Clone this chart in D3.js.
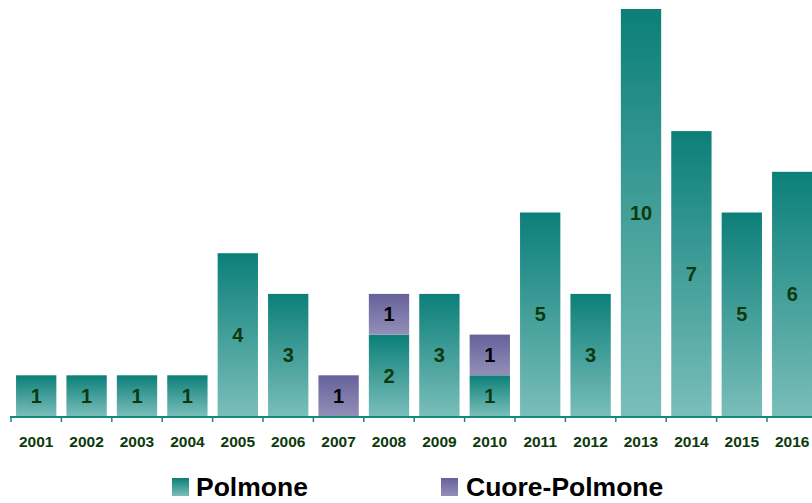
<!DOCTYPE html>
<html>
<head>
<meta charset="utf-8">
<script src="https://cdn.jsdelivr.net/npm/d3@7"></script>
<style>
  body { margin: 0; background: #fff; }
  svg { display: block; font-family: "Liberation Sans", Arial, sans-serif; }
</style>
</head>
<body>
<svg id="chart" width="812" height="503"></svg>
<script>
var years = ["2001","2002","2003","2004","2005","2006","2007","2008","2009","2010","2011","2012","2013","2014","2015","2016"];
var polmone = [1,1,1,1,4,3,0,2,3,1,5,3,10,7,5,6];
var cuorePolmone = [0,0,0,0,0,0,1,1,0,1,0,0,0,0,0,0];
var seriesNames = ["Polmone", "Cuore-Polmone"];

var svg = d3.select('#chart');
var baseY = 416;

var x = d3.scaleBand()
    .domain(years)
    .range([11, 11 + 16 * 50.4])
    .paddingInner(0.2)
    .paddingOuter(0.1);

var y = d3.scaleLinear()
    .domain([0, 10])
    .range([baseY, 9]);

// gradients
var defs = svg.append('defs');
function grad(id, top, bottom) {
    var g = defs.append('linearGradient')
        .attr('id', id)
        .attr('x1', 0).attr('y1', 0).attr('x2', 0).attr('y2', 1);
    g.append('stop').attr('offset', '0%').attr('stop-color', top);
    g.append('stop').attr('offset', '100%').attr('stop-color', bottom);
}
grad('gPol', '#0c7f79', '#7abeba');
grad('gCuo', '#66619a', '#938fb8');

var rows = years.map((yr, i) => ({ year: yr, Polmone: polmone[i], "Cuore-Polmone": cuorePolmone[i] }));
var stack = d3.stack().keys(seriesNames)(rows);
var fills = { "Polmone": "url(#gPol)", "Cuore-Polmone": "url(#gCuo)" };
var labelColors = { "Polmone": "#0d3a0d", "Cuore-Polmone": "#000" };

stack.forEach(s => {
    var seg = svg.append('g').selectAll('g')
        .data(s.filter(d => d[1] - d[0] > 0))
        .enter()
        .append('g');

    seg.append('rect')
        .attr('x', d => x(d.data.year))
        .attr('y', d => y(d[1]))
        .attr('width', x.bandwidth())
        .attr('height', d => y(d[0]) - y(d[1]))
        .attr('fill', fills[s.key]);

    seg.append('text')  // value in the middle of the segment
        .attr('x', d => x(d.data.year) + x.bandwidth() / 2)
        .attr('y', d => (y(d[0]) + y(d[1])) / 2)
        .attr('dy', '0.36em')
        .attr('text-anchor', 'middle')
        .attr('font-size', 20)
        .attr('font-weight', 'bold')
        .attr('fill', labelColors[s.key])
        .text(d => d[1] - d[0]);
});

// axis
var axis = svg.append('g').attr('transform', 'translate(0,' + (baseY + 1) + ')');
axis.append('line')
    .attr('x1', 10).attr('x2', 812)
    .attr('stroke', '#14877f').attr('stroke-width', 2);
axis.selectAll('line.tick')
    .data(d3.range(years.length + 1))
    .enter()
    .append('line')
    .attr('class', 'tick')
    .attr('x1', i => 11 + i * x.step()).attr('x2', i => 11 + i * x.step())
    .attr('y1', 0).attr('y2', 5)
    .attr('stroke', '#14877f').attr('stroke-width', 1.5);
axis.selectAll('text')
    .data(years)
    .enter()
    .append('text')
    .attr('x', d => x(d) + x.bandwidth() / 2)
    .attr('y', 30)
    .attr('text-anchor', 'middle')
    .attr('font-size', 15.5)
    .attr('font-weight', 'bold')
    .attr('fill', '#0d3a0d')
    .text(d => d);

// legend
var legendX = [172, 441];
var leg = svg.selectAll('g.legend')
    .data(seriesNames)
    .enter()
    .append('g')
    .attr('class', 'legend')
    .attr('transform', (d, i) => 'translate(' + legendX[i] + ',478)');
leg.append('rect')
    .attr('width', 17).attr('height', 18)
    .attr('fill', d => fills[d]);
leg.append('text')
    .attr('x', (d, i) => i === 0 ? 24 : 25)
    .attr('y', 18)
    .attr('font-size', 26.5)
    .attr('font-weight', 'bold')
    .attr('fill', '#000')
    .text(d => d);
</script>
</body>
</html>
